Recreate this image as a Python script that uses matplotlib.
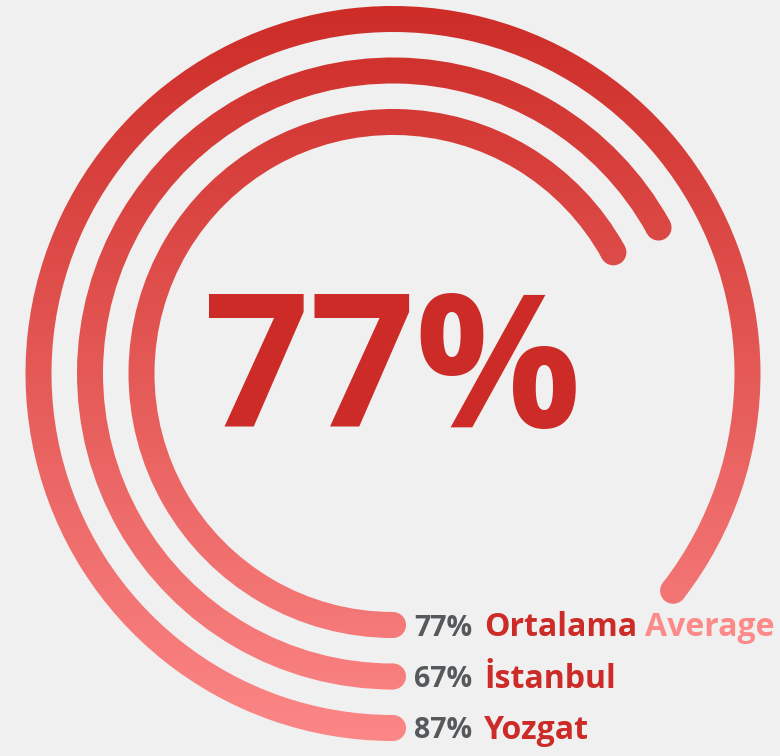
import numpy as np
import matplotlib.pyplot as plt
from matplotlib.patches import Wedge, Circle
from matplotlib.colors import LinearSegmentedColormap

# data
names = ["Ortalama", "İstanbul", "Yozgat"]
percents = [77, 67, 87]
extra_word = ["Average", "", ""]
# how far each ring is drawn round the circle (percent)
sweep = [67, 67, 85.5]
big_value = 77

# layout (pixels)
W, H = 780, 756
CX, CY = 393, 373.5
R0, STEP, THICK = 251.5, 51.5, 26

BG = "#f0f0f0"
RED = "#cc2b27"
PINK = "#fc8a88"
GRAY = "#55595c"

plt.rcParams['font.family'] = ['Open Sans', 'DejaVu Sans']

fig = plt.figure(figsize=(W / 100, H / 100), dpi=100, facecolor=BG)
ax = fig.add_axes([0, 0, 1, 1])
ax.set_xlim(0, W)
ax.set_ylim(H, 0)
ax.set_facecolor(BG)
ax.axis('off')

cmap = LinearSegmentedColormap.from_list('ring', ["#cd2c27", "#fc8787"])
yy = np.repeat(np.arange(H)[:, None] + 0.5, 4, axis=1)


def gradient_piece(patch):
    patch.set_transform(ax.transData)
    im = ax.imshow(yy, cmap=cmap, vmin=6, vmax=742, extent=(0, W, H, 0),
                   aspect='auto', interpolation='bilinear')
    im.set_clip_path(patch)


for i, s in enumerate(sweep):
    r = R0 + i * STEP
    a0 = 90
    a1 = 90 + s / 100 * 360
    gradient_piece(Wedge((CX, CY), r + THICK / 2, a0, a1, width=THICK))
    for a in (a0, a1):
        t = np.deg2rad(a)
        gradient_piece(Circle((CX + r * np.cos(t), CY + r * np.sin(t)), THICK / 2))

    yb = CY + r + 10.5
    ax.text(414, yb, f"{percents[i]}%", color=GRAY, fontsize=20.5,
            fontweight='bold', va='baseline', ha='left')
    ax.text(484, yb + 0.5, names[i], color=RED, fontsize=23,
            fontweight='bold', va='baseline', ha='left')
    if extra_word[i]:
        ax.text(645, yb + 0.5, extra_word[i], color=PINK, fontsize=23,
                fontweight='bold', va='baseline', ha='left')

ax.text(392.5, 427, f"{big_value}%", color=RED, fontsize=133,
        fontweight='bold', va='baseline', ha='center')

ax.set_xlim(0, W)
ax.set_ylim(H, 0)
fig.savefig("out.png", dpi=100, facecolor=BG)
